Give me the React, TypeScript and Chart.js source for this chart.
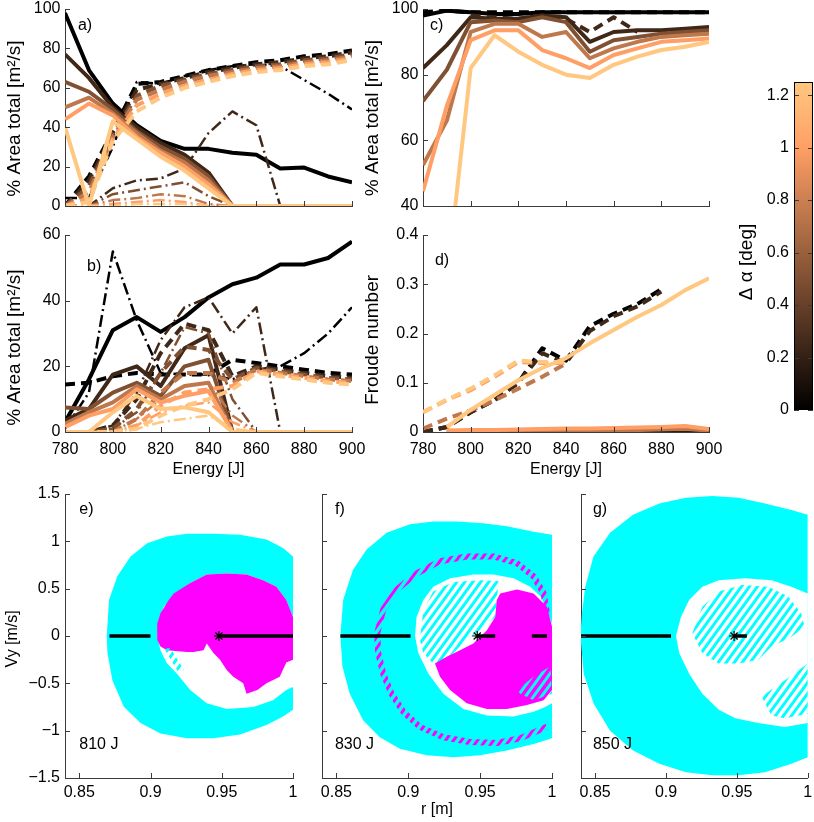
import React, { useEffect, useRef } from "react";
import { Chart, registerables } from "chart.js";

Chart.register(...registerables);
Chart.defaults.font.family = '"Liberation Sans", Arial, Helvetica, sans-serif';
Chart.defaults.font.size = 16;
Chart.defaults.color = "#000";

type Series = (number | null)[];

// ---------------- data ----------------
const ENERGY = [780, 790, 800, 810, 820, 830, 840, 850, 860, 870, 880, 890, 900];
const DALPHA = [0, 0.25, 0.5, 0.75, 1.0, 1.25];
const CB_MAX = 1.25;

const ENERGY_TICKS = [780, 800, 820, 840, 860, 880, 900];
const A_TICKS = [0, 20, 40, 60, 80, 100];
const B_TICKS = [0, 20, 40, 60];
const C_TICKS = [40, 60, 80, 100];
const D_TICKS = [0, 0.1, 0.2, 0.3, 0.4];
const CB_TICKS = [0, 0.2, 0.4, 0.6, 0.8, 1, 1.2];
const R_TICKS = [0.85, 0.9, 0.95, 1];
const VY_TICKS = [-1.5, -1, -0.5, 0, 0.5, 1, 1.5];

// panel a) (index = Δα)
const A_SOLID: (Series | null)[] = [
  [98, 69, 52, 41, 33, 29, 29, 27, 26, 19, 19.5, 15, 12],
  [77, 65, 50, 40, 32, 26, 17, 0, 0, 0, 0, 0, 0],
  [63, 58, 49, 38, 30, 24, 15, 0, 0, 0, 0, 0, 0],
  [50, 55, 47, 37, 28, 22, 13, 0, 0, 0, 0, 0, 0],
  [44, 52, 46, 35, 27, 20, 11, 0, 0, 0, 0, 0, 0],
  [40, 0, 43, 34, 25, 18, 9, 0, 0, 0, 0, 0, 0],
];
const A_DASH: (Series | null)[] = [
  [0, 15, 38, 62, 63, 66, 69, 71, 73, 74, 76, 77, 79],
  [0, 13, 37, 59, 62, 65, 68, 70, 72, 73, 75, 76, 78],
  [0, 10, 36, 56, 61, 64, 67, 69, 71, 72, 74, 75, 77],
  [0, 7, 35, 54, 59, 63, 66, 68, 70, 71, 73, 74, 76],
  [0, 4, 34, 51, 57, 61, 64, 67, 69, 70, 72, 73, 75],
  [0, 2, 33, 48, 55, 60, 63, 66, 68, 69, 71, 72, 74],
];
const A_DASHDOT: (Series | null)[] = [
  [4, 4, 30, 63, 62, 66, 69, 71, 72, 71, 64, 57, 49],
  [0, 0, 9, 13, 14, 19, 37, 48, 41, 0, 0, 0, 0],
  [0, 0, 6, 8, 10, 12, 5, 0, 0, 0, 0, 0, 0],
  [0, 0, 3, 4, 6, 5, 1, 0, 0, 0, 0, 0, 0],
  [0, 0, 1, 2, 3, 2, 0, 0, 0, 0, 0, 0, 0],
  [0, 0, 0, 1, 1, 1, 0, 0, 0, 0, 0, 0, 0],
];

// panel b)
const B_SOLID: (Series | null)[] = [
  [3, 16, 31, 35, 30.5, 35, 41, 45, 47, 51, 51, 53, 58],
  [3.5, 7, 17.5, 20, 14, 25.5, 29.5, 0, 0, 0, 0, 0, 0],
  [7.5, 7, 12, 15, 11, 20, 22, 0, 0, 0, 0, 0, 0],
  [2.5, 6, 9, 14, 10, 14, 15, 0, 0, 0, 0, 0, 0],
  [1.5, 5, 7, 13, 9, 11, 12.5, 0, 0, 0, 0, 0, 0],
  [0, 0, 6, 11, 7, 7.5, 6, 0, 0, 0, 0, 0, 0],
];
const B_DASH: (Series | null)[] = [
  [14.5, 15, 17, 18, 17.5, 17.5, 17.5, 22, 21, 20, 19, 18, 17.5],
  [0, 0, 2, 10, 24, 33, 31, 17, 20, 19, 18, 17, 16.5],
  [0, 0, 1, 7, 18, 26, 25, 16, 19.5, 18.5, 17.5, 16.5, 16],
  [0, 0, 0, 4, 12, 18, 18, 15, 19, 18, 17, 16, 15.5],
  [0, 0, 0, 2, 8, 12, 13, 14, 18.5, 17.5, 16.5, 15.5, 15],
  [0, 0, 0, 1, 5, 8, 10, 13, 18, 17, 16, 15, 14.5],
];
const B_DASHDOT: (Series | null)[] = [
  [1, 12, 55, 34, 18, 17.5, 17.5, 16, 19, 20, 24, 30, 38],
  [0, 0, 2, 12, 28, 38, 41, 30, 38, 0, 0, 0, 0],
  [0, 0, 1, 6, 18, 32, 30, 10, 0, 0, 0, 0, 0],
  [0, 0, 0, 4, 10, 14, 15, 5, 0, 0, 0, 0, 0],
  [0, 0, 0, 2, 6, 8, 9, 3, 0, 0, 0, 0, 0],
  [0, 0, 0, 1, 3, 4, 5, 1, 0, 0, 0, 0, 0],
];

// panel c)
const C_SOLID: (Series | null)[] = [
  [98, 99.5, 99, 98.5, 98.5, 99, 99, 99, 99, 99, 99, 99, 99],
  [82, 89, 97.5, 97, 97, 98, 97.5, 90, 93, 93.5, 93.5, 94, 94.5],
  [72, 81.5, 96, 96.5, 96, 97.5, 96, 87, 90.5, 91.5, 92.5, 93, 93.5],
  [52.5, 66, 93, 95.5, 95.5, 91.5, 93, 85, 88, 90, 91.5, 92, 92.5],
  [44.5, 70.5, 90.5, 93.5, 93.5, 87.5, 85, 82, 86, 88, 90, 90.5, 91],
  [0, 17, 82, 92, 87, 83, 80, 79, 83, 85.5, 87.5, 88.5, 90],
];
const C_DASH: (Series | null)[] = [
  [99, 99.5, 99, 99, 99, 99, 99, 99, 99, 99, 99, 99, 99],
  [null, null, 98, 97.5, 97, 98, 97, 93, 97.5, 93, null, null, null],
  null, null, null, null,
];

// panel d)
const D_SOLID: (Series | null)[] = [
  [null, 0, 0, 0, 0, 0, 0, 0, 0, 0, 0, 0, 0],
  null,
  null,
  [null, 0.001, 0.001, 0.002, 0.002, 0.003, 0.003, 0.003, 0.004, 0.004, 0.005, 0.006, 0.003],
  [null, 0.003, 0.004, 0.004, 0.005, 0.006, 0.007, 0.007, 0.008, 0.009, 0.01, 0.012, 0.006],
  [null, 0.01, 0.045, 0.075, 0.105, 0.13, 0.15, 0.18, 0.207, 0.234, 0.258, 0.288, 0.312],
];
const D_DASH: (Series | null)[] = [
  [0, 0.01, 0.04, 0.065, 0.1, 0.17, 0.145, 0.215, 0.24, 0.26, 0.29, null, null],
  [0, 0.01, 0.04, 0.065, 0.1, 0.16, 0.14, 0.205, 0.235, 0.255, 0.285, null, null],
  null,
  [0.007, 0.027, 0.044, 0.064, 0.088, 0.112, 0.139, null, null, null, null, null, null],
  [0.04, 0.065, 0.085, 0.112, 0.142, 0.14, 0.14, null, null, null, null, null, null],
  [0.04, 0.066, 0.088, 0.115, 0.145, 0.142, 0.142, null, null, null, null, null, null],
];

// panels e) f) g): regions in (r [m], Vy [m/s])
const STAR_R = 0.948;
const E_OUTER = [
  [0.8693, 0], [0.8709, 0.38], [0.8767, 0.63], [0.886, 0.84], [0.8977, 0.98], [0.9116, 1.05], [0.9256, 1.08],
  [0.9442, 1.08], [0.9628, 1.07], [0.9814, 1.02], [0.993, 0.93], [1.0, 0.84], [1.0, -0.78], [0.993, -0.85],
  [0.9814, -0.94], [0.9628, -1.04], [0.9442, -1.08], [0.9256, -1.08], [0.907, -1.03], [0.893, -0.92],
  [0.8814, -0.75], [0.8733, -0.47], [0.8698, -0.18],
];
const E_HOLE = [
  [1.02, 0.2], [1.0, 0.2], [0.9953, 0.38], [0.9884, 0.52], [0.979, 0.59], [0.9674, 0.65], [0.9535, 0.66],
  [0.9395, 0.65], [0.9279, 0.56], [0.9186, 0.45], [0.914, 0.38], [0.9093, 0.31], [0.9058, 0.17], [0.9047, 0],
  [0.907, -0.15], [0.9116, -0.29], [0.9186, -0.4], [0.9279, -0.57], [0.9395, -0.71], [0.9535, -0.77],
  [0.9721, -0.75], [0.986, -0.68], [0.9953, -0.57], [1.0, -0.54], [1.02, -0.54],
];
const E_MAGENTA = [
  [0.9047, 0.13], [0.907, 0.24], [0.9128, 0.38], [0.9163, 0.45], [0.9279, 0.56], [0.9395, 0.65], [0.9535, 0.66],
  [0.9674, 0.65], [0.979, 0.59], [0.9884, 0.52], [0.9953, 0.38], [1.0, 0.2], [1.0, -0.25], [0.9953, -0.28],
  [0.9907, -0.43], [0.9814, -0.5], [0.975, -0.57], [0.9674, -0.61], [0.9651, -0.5], [0.9581, -0.43],
  [0.9535, -0.36], [0.9488, -0.25], [0.9442, -0.18], [0.9395, -0.08], [0.9372, -0.15], [0.9302, -0.17],
  [0.9256, -0.17], [0.9116, -0.15], [0.907, -0.11], [0.9047, -0.04],
];
const E_HATCH = [[0.9095, -0.13], [0.914, -0.13], [0.9235, -0.36], [0.919, -0.37]];
const E_BARS = [[0.8712, 0.9], [STAR_R, 1.0]];

const F_OUTER = [
  [0.8528, 0], [0.8547, 0.38], [0.8616, 0.7], [0.8709, 0.91], [0.8849, 1.09], [0.9012, 1.18], [0.9174, 1.21],
  [0.9337, 1.21], [0.9523, 1.19], [0.9686, 1.16], [0.9872, 1.1], [1.0, 1.07], [1.0, -1.08], [0.9872, -1.14],
  [0.9686, -1.21], [0.95, -1.26], [0.9314, -1.28], [0.9128, -1.26], [0.8942, -1.19], [0.8802, -1.07],
  [0.8686, -0.89], [0.8593, -0.61], [0.8542, -0.32],
];
const F_HOLE = [
  [1.02, 0.13], [1.0, 0.13], [0.9965, 0.28], [0.9919, 0.42], [0.9849, 0.52], [0.9733, 0.61], [0.9593, 0.65],
  [0.9453, 0.65], [0.9291, 0.61], [0.9174, 0.52], [0.9105, 0.38], [0.9058, 0.2], [0.9047, 0], [0.907, -0.18],
  [0.914, -0.4], [0.9244, -0.61], [0.9384, -0.77], [0.9547, -0.84], [0.9733, -0.85], [0.9872, -0.8],
  [0.9953, -0.75], [1.0, -0.71], [1.02, -0.71],
];
const F_MAGENTA = [
  [0.964, 0.45], [0.9756, 0.49], [0.9872, 0.45], [0.9965, 0.31], [1.0, 0.1], [1.0, -0.57], [0.9942, -0.68],
  [0.9826, -0.73], [0.9686, -0.77], [0.9547, -0.77], [0.9407, -0.71], [0.9291, -0.57], [0.9221, -0.43],
  [0.9186, -0.29], [0.9267, -0.22], [0.936, -0.15], [0.9453, -0.08], [0.9547, 0.06], [0.9605, 0.2], [0.9616, 0.38],
];
const F_HATCH1 = [
  [0.9081, -0.04], [0.9105, 0.27], [0.9174, 0.47], [0.9314, 0.57], [0.95, 0.59], [0.9628, 0.58], [0.9616, 0.38],
  [0.9605, 0.2], [0.95, 0.06], [0.9407, -0.04], [0.9314, -0.18], [0.9244, -0.27], [0.9174, -0.29], [0.9105, -0.18],
];
const F_HATCH2 = [[0.9756, -0.57], [0.9872, -0.43], [0.9988, -0.32], [1.0, -0.61], [0.9872, -0.68], [0.9779, -0.61]];
const F_RING = [
  [0.9965, 0.24], [0.9942, 0.45], [0.9872, 0.63], [0.9756, 0.77], [0.9593, 0.84], [0.9407, 0.84], [0.9221, 0.79],
  [0.9058, 0.66], [0.8919, 0.49], [0.8826, 0.28], [0.8784, 0.03], [0.8791, -0.18], [0.8826, -0.4], [0.8884, -0.61],
  [0.8965, -0.8], [0.9081, -0.96], [0.9244, -1.07], [0.943, -1.12], [0.9616, -1.13], [0.9779, -1.08], [0.9965, -0.96],
];
const F_BARS = [[0.8528, 0.9016], [STAR_R, 0.9605], [0.986, 0.9965]];

const G_OUTER = [
  [0.8395, 0], [0.8407, 0.24], [0.843, 0.52], [0.8488, 0.84], [0.8605, 1.09], [0.8767, 1.28], [0.8953, 1.4],
  [0.914, 1.46], [0.9326, 1.48], [0.9512, 1.46], [0.9698, 1.4], [0.9884, 1.33], [1.0, 1.28], [1.0, -1.28],
  [0.9884, -1.35], [0.9698, -1.44], [0.9512, -1.47], [0.9326, -1.47], [0.914, -1.44], [0.8953, -1.35],
  [0.8767, -1.21], [0.8605, -1.0], [0.8488, -0.71], [0.8419, -0.4], [0.8407, -0.18],
];
const G_HOLE = [
  [1.02, 0.45], [1.0, 0.45], [0.9884, 0.52], [0.9744, 0.59], [0.9558, 0.61], [0.9372, 0.59], [0.9256, 0.52],
  [0.9163, 0.38], [0.9105, 0.2], [0.907, 0], [0.9093, -0.18], [0.9163, -0.4], [0.9256, -0.61], [0.9372, -0.78],
  [0.9488, -0.87], [0.9651, -0.92], [0.9837, -0.96], [1.0, -0.92], [1.02, -0.92],
];
const G_HATCH1 = [
  [0.9186, 0.03], [0.9256, 0.31], [0.9372, 0.47], [0.9535, 0.54], [0.9721, 0.52], [0.986, 0.42], [0.9953, 0.24],
  [0.9977, 0.1], [0.9884, -0.01], [0.9744, -0.11], [0.9651, -0.25], [0.9512, -0.29], [0.9372, -0.29], [0.9256, -0.18],
];
const G_HATCH2 = [[0.9674, -0.64], [0.9837, -0.47], [1.0, -0.29], [1.0, -0.82], [0.9837, -0.87], [0.9744, -0.84]];
const G_BARS = [[0.8395, 0.9035], [STAR_R, 0.957]];

// ---------------- helpers ----------------
const AXIS_COLOR = "#3a3a3a";
const CYAN = "#00ffff";
const MAGENTA = "#ff00ff";
const W = 814;
const H = 822;
const FONT = '"Liberation Sans", Arial, Helvetica, sans-serif';

function copper(d: number) {
  const f = Math.max(0, Math.min(1, d / CB_MAX));
  const r = Math.min(1, 1.25 * f), g = 0.7812 * f, b = 0.4975 * f;
  return `rgb(${Math.round(r * 255)},${Math.round(g * 255)},${Math.round(b * 255)})`;
}

function stripePattern(color: string): CanvasPattern | string {
  const tw = 8, th = 11;
  const c = document.createElement("canvas");
  c.width = tw; c.height = th;
  const g = c.getContext("2d");
  if (!g) return color;
  g.strokeStyle = color; g.lineWidth = 3;
  for (const k of [-1, 0, 1]) {
    g.beginPath(); g.moveTo(k * tw - tw, 2 * th); g.lineTo(k * tw + 2 * tw, -th); g.stroke();
  }
  return g.createPattern(c, "repeat") || color;
}

const fmt = (v: number) => String(v).replace("-", "\u2212");

function axis(o: {
  pos: "left" | "bottom"; min: number; max: number; ticks: number[]; labels: boolean; pad?: number;
  size: number; title?: string;
}) {
  return {
    type: "linear",
    position: o.pos,
    min: o.min,
    max: o.max,
    afterBuildTicks: (s: any) => { s.ticks = o.ticks.map((v) => ({ value: v })); },
    afterFit: (s: any) => {
      if (o.pos === "bottom") s.height = o.size; else s.width = o.size;
      s.paddingTop = 0; s.paddingBottom = 0; s.paddingLeft = 0; s.paddingRight = 0;
    },
    grid: { display: false, drawTicks: false },
    border: { display: true, color: AXIS_COLOR, width: 1 },
    ticks: { display: o.labels, padding: o.pad ?? 4, color: "#000", font: { size: 16 }, maxRotation: 0, autoSkip: false, callback: (v: any) => fmt(Number(v)) },
    title: { display: !!o.title, text: o.title || "", color: "#000", font: { size: 16 }, padding: { top: 0, bottom: 0 } },
  };
}

// texts: plain labels at data positions, and rotated axis labels placed beside the y axis
const textPlugin = {
  id: "panelText",
  afterDatasetsDraw(chart: any, _a: any, opts: any) {
    const items = (opts && opts.items) || [];
    const ctx = chart.ctx;
    const ca = chart.chartArea;
    ctx.save();
    ctx.fillStyle = "#000";
    for (const it of items) {
      const y = chart.scales.y.getPixelForValue(it.y);
      ctx.font = `${it.size || 16}px ${FONT}`;
      if (it.rotate) {
        const x = ca.left + it.dx;
        ctx.save();
        ctx.translate(x, y);
        ctx.rotate(-Math.PI / 2);
        ctx.textAlign = "center"; ctx.textBaseline = "middle";
        ctx.fillText(it.text, 0, 0);
        ctx.restore();
      } else {
        ctx.textAlign = "left"; ctx.textBaseline = "middle";
        ctx.fillText(it.text, chart.scales.x.getPixelForValue(it.x), y);
      }
    }
    ctx.restore();
  },
};

const tickPlugin = {
  id: "inTicks",
  afterDraw(chart: any, _a: any, opts: any) {
    if (!opts) return;
    const { ctx, chartArea: ca } = chart;
    const len = 5;
    ctx.save();
    ctx.strokeStyle = AXIS_COLOR; ctx.lineWidth = 1;
    const xs = chart.scales.x, ys = chart.scales.y;
    if (opts.x && xs) {
      for (const t of xs.ticks) {
        const p = Math.round(xs.getPixelForValue(t.value)) + 0.5;
        ctx.beginPath(); ctx.moveTo(p, ca.bottom); ctx.lineTo(p, ca.bottom - len); ctx.stroke();
      }
    }
    if (opts.y && ys) {
      for (const t of ys.ticks) {
        const p = Math.round(ys.getPixelForValue(t.value)) + 0.5;
        ctx.beginPath(); ctx.moveTo(ca.left, p); ctx.lineTo(ca.left + len, p); ctx.stroke();
        if (opts.yRight) { ctx.beginPath(); ctx.moveTo(ca.right, p); ctx.lineTo(ca.right - len, p); ctx.stroke(); }
      }
    }
    if (opts.box) {
      ctx.strokeStyle = "#000";
      ctx.strokeRect(Math.round(ca.left) + 0.5, Math.round(ca.top) + 0.5, Math.round(ca.right - ca.left) - 1, Math.round(ca.bottom - ca.top) - 1);
    }
    ctx.restore();
  },
};

const STYLE: Record<string, { w: number; dash: number[] }> = {
  solid: { w: 4, dash: [] },
  dash: { w: 4, dash: [10, 6] },
  dashdot: { w: 2.5, dash: [12, 4, 2, 4] },
};

function lineDatasets(groups: [string, (Series | null)[]][]) {
  const out: any[] = [];
  let n = 0;
  DALPHA.forEach((d, k) => {
    for (const [style, arr] of groups) {
      const vals = arr[k];
      if (!vals) continue;
      out.push({
        type: "line",
        data: vals.map((v, j) => ({ x: ENERGY[j], y: v })),
        borderColor: copper(d),
        borderWidth: STYLE[style].w,
        borderDash: STYLE[style].dash,
        borderCapStyle: "butt",
        borderJoinStyle: "round",
        pointRadius: 0,
        fill: false,
        spanGaps: false,
        tension: 0,
        order: -n++,
      });
    }
  });
  return out;
}

function baseOptions(padding: any, items: any[], ticks: any, scales: any) {
  return {
    responsive: false,
    animation: false,
    events: [],
    layout: { padding },
    plugins: { legend: { display: false }, tooltip: { enabled: false }, panelText: { items }, inTicks: ticks },
    scales,
  };
}

function linePanel(p: {
  L: number; T: number; R: number; B: number; wy: number; hx: number; ymin: number; ymax: number; yt: number[];
  xlabels: boolean; xtitle?: string; texts: any[]; sets: any[];
}) {
  return {
    type: "line",
    data: { datasets: p.sets },
    options: baseOptions(
      { left: p.L - p.wy, top: p.T, right: W - p.R, bottom: H - p.B - p.hx },
      p.texts,
      { x: true, y: true },
      {
        x: axis({ pos: "bottom", min: 780, max: 900, ticks: ENERGY_TICKS, labels: p.xlabels, pad: 7.5, size: p.hx, title: p.xtitle }),
        y: axis({ pos: "left", min: p.ymin, max: p.ymax, ticks: p.yt, labels: true, pad: 4.5, size: p.wy }),
      },
    ),
    plugins: [textPlugin, tickPlugin],
  };
}

const AREA_TITLE = "% Area total [m\u00b2/s]";
const YT_SIZE = 19;

const makeA = () => linePanel({
  L: 65, T: 9, R: 352, B: 206, wy: 65, hx: 0, ymin: 0, ymax: 100, yt: A_TICKS, xlabels: false,
  texts: [{ text: "a)", x: 785.4, y: 91.5 }, { text: AREA_TITLE, rotate: true, dx: -50, y: 44.4, size: YT_SIZE }],
  sets: lineDatasets([["solid", A_SOLID], ["dash", A_DASH], ["dashdot", A_DASHDOT]]),
});
const makeB = () => linePanel({
  L: 65, T: 235, R: 352, B: 432, wy: 65, hx: 47.6, ymin: 0, ymax: 60, yt: B_TICKS, xlabels: true,
  xtitle: "Energy [J]",
  texts: [{ text: "b)", x: 789.2, y: 50.3 }, { text: AREA_TITLE, rotate: true, dx: -50, y: 25.7, size: YT_SIZE }],
  sets: lineDatasets([["solid", B_SOLID], ["dash", B_DASH], ["dashdot", B_DASHDOT]]),
});
const makeC = () => linePanel({
  L: 423, T: 9, R: 709, B: 206, wy: 63.6, hx: 0, ymin: 40, ymax: 100, yt: C_TICKS, xlabels: false,
  texts: [{ text: "c)", x: 782.9, y: 94.8 }, { text: AREA_TITLE, rotate: true, dx: -50, y: 66.8, size: YT_SIZE }],
  sets: lineDatasets([["solid", C_SOLID], ["dash", C_DASH]]),
});
const makeD = () => linePanel({
  L: 423, T: 235, R: 709, B: 432, wy: 63.6, hx: 47.6, ymin: 0, ymax: 0.4, yt: D_TICKS, xlabels: true,
  xtitle: "Energy [J]",
  texts: [{ text: "d)", x: 785, y: 0.349 }, { text: "Froude number", rotate: true, dx: -50, y: 0.187, size: YT_SIZE }],
  sets: lineDatasets([["dash", D_DASH], ["solid", D_SOLID]]),
});

const makeCB = () => ({
  type: "bar",
  data: {
    labels: [""],
    datasets: [{
      data: [[0, CB_MAX]],
      borderWidth: 0,
      barPercentage: 1,
      categoryPercentage: 1,
      backgroundColor: (c: any) => {
        const ch = c.chart;
        const ys = ch.scales && ch.scales.y;
        if (!ys) return "#000";
        const y0 = ys.getPixelForValue(0), y1 = ys.getPixelForValue(CB_MAX);
        if (!isFinite(y0) || !isFinite(y1) || y0 === y1) return "#000";
        const g = ch.ctx.createLinearGradient(0, y0, 0, y1);
        for (let i = 0; i <= 20; i++) g.addColorStop(i / 20, copper((CB_MAX * i) / 20));
        return g;
      },
    }],
  },
  options: baseOptions(
    { left: 794 - 59.6, top: 82, right: W - 813, bottom: H - 410 },
    [{ text: "\u0394 \u03b1 [deg]", rotate: true, dx: -47, y: 0.564, size: YT_SIZE }],
    { y: true, yRight: true, box: true },
    {
      x: { display: false },
      y: axis({ pos: "left", min: 0, max: CB_MAX, ticks: CB_TICKS, labels: true, pad: 5, size: 59.6 }),
    },
  ),
  plugins: [textPlugin, tickPlugin],
});

const pts = (p: number[][]) => p.map(([x, y]) => ({ x, y }));
const area = (p: number[][], color: any, order: number) => ({
  type: "line", data: pts(p), backgroundColor: color, borderWidth: 0, fill: "shape", pointRadius: 0, order,
});
const barSet = (segs: number[][]) => {
  const data: any[] = [];
  segs.forEach(([a, b], i) => {
    if (i) data.push({ x: (a + segs[i - 1][1]) / 2, y: null });
    data.push({ x: a, y: 0 }, { x: b, y: 0 });
  });
  return { type: "line", data, borderColor: "#000", borderWidth: 3.5, pointRadius: 0, fill: false, spanGaps: false, order: 2 };
};
const starSet = () => ({
  type: "line", data: [{ x: STAR_R, y: 0 }], showLine: false, pointStyle: "star", pointRadius: 5,
  pointBorderColor: "#000", pointBackgroundColor: "#000", pointBorderWidth: 1.2, order: 1,
});

function regionPanel(p: { L: number; R: number; wy: number; hx: number; yl: boolean; xtitle?: string; tag: string; energy: string; tagX: number; sets: any[] }) {
  const T = 494, B = 778;
  const texts: any[] = [{ text: p.tag, x: p.tagX, y: 1.33 }, { text: p.energy, x: p.tagX, y: -1.15 }];
  if (p.yl) texts.push({ text: "Vy [m/s]", rotate: true, dx: -52.5, y: -0.03, size: 16 });
  return {
    type: "line",
    data: { datasets: p.sets },
    options: baseOptions(
      { left: p.L - p.wy, top: T, right: W - p.R, bottom: H - B - p.hx },
      texts,
      { x: true, y: true },
      {
        x: axis({ pos: "bottom", min: 0.84, max: 1, ticks: R_TICKS, labels: true, pad: 4.5, size: p.hx, title: p.xtitle }),
        y: axis({ pos: "left", min: -1.5, max: 1.5, ticks: VY_TICKS, labels: p.yl, pad: 5, size: p.wy }),
      },
    ),
    plugins: [textPlugin, tickPlugin],
  };
}

const makeE = () => {
  const hc = stripePattern(CYAN);
  return regionPanel({
    L: 65, R: 293, wy: 65, hx: 30, yl: true, tag: "e)", energy: "810 J", tagX: 0.85,
    sets: [area(E_OUTER, CYAN, 20), area(E_HOLE, "#ffffff", 19), area(E_MAGENTA, MAGENTA, 17), area(E_HATCH, hc, 16), barSet(E_BARS), starSet()],
  });
};
const makeF = () => {
  const hc = stripePattern(CYAN);
  const hm = stripePattern(MAGENTA);
  return regionPanel({
    L: 322, R: 552, wy: 0, hx: 41.6, yl: false, xtitle: "r [m]", tag: "f)", energy: "830 J", tagX: 0.849,
    sets: [
      area(F_OUTER, CYAN, 20), area(F_HOLE, "#ffffff", 19), area(F_HATCH1, hc, 18), area(F_MAGENTA, MAGENTA, 17),
      area(F_HATCH2, hc, 16),
      { type: "line", data: pts(F_RING), borderColor: hm, borderWidth: 6, pointRadius: 0, fill: false, order: 15, borderJoinStyle: "round" },
      barSet(F_BARS), starSet(),
    ],
  });
};
const makeG = () => {
  const hc = stripePattern(CYAN);
  return regionPanel({
    L: 581, R: 810, wy: 0, hx: 30, yl: false, tag: "g)", energy: "850 J", tagX: 0.8484,
    sets: [area(G_OUTER, CYAN, 20), area(G_HOLE, "#ffffff", 19), area(G_HATCH1, hc, 18), area(G_HATCH2, hc, 16), barSet(G_BARS), starSet()],
  });
};

const MAKERS = [makeA, makeB, makeC, makeD, makeCB, makeE, makeF, makeG];

function Panel({ make }: { make: () => any }) {
  const ref = useRef<HTMLCanvasElement | null>(null);
  useEffect(() => {
    const el = ref.current;
    if (!el) return;
    const chart = new Chart(el, make());
    return () => chart.destroy();
  }, [make]);
  return <canvas ref={ref} width={W} height={H} style={{ position: "absolute", left: 0, top: 0, width: W, height: H }} />;
}

export default function App() {
  return (
    <div style={{ position: "absolute", left: 0, top: 0, width: W, height: H, background: "#fff", overflow: "hidden" }}>
      {MAKERS.map((m, i) => <Panel key={i} make={m} />)}
    </div>
  );
}
